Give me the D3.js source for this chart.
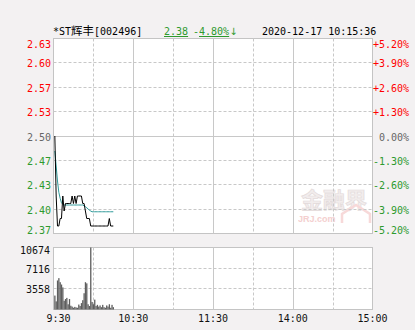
<!DOCTYPE html>
<html><head><meta charset="utf-8">
<script src="https://cdn.jsdelivr.net/npm/d3@7"></script>
<style>
html,body{margin:0;padding:0;background:#f3f1f2;}
svg{display:block;}
text{font-family:"DejaVu Sans Mono","Liberation Mono",monospace;font-size:10px;}
</style></head>
<body><svg id="c" width="415" height="330"></svg>
<script>
// ---- data ----
const stockPrefix = "*ST";
const stockCjk = "辉丰";
const stockCode = "[002496]";
const lastPrice = "2.38";
const changePct = "4.80%";
const dateTime = "2020-12-17 10:15:36";
const prevClose = 2.50;
const priceTicks = [2.37, 2.4025, 2.435, 2.4675, 2.50, 2.5325, 2.565, 2.5975, 2.63];
const priceTickLabels = ["2.37","2.40","2.43","2.47","2.50","2.53","2.57","2.60","2.63"];
const pctTickLabels = ["-5.20%","-3.90%","-2.60%","-1.30%","0.00%","+1.30%","+2.60%","+3.90%","+5.20%"];
const volTicks = [3558, 7116, 10674];
const volTickLabels = ["3558","7116","10674"];
const timeTicks = [0, 60, 120, 180, 240];
const timeLabels = ["9:30","10:30","11:30","14:00","15:00"];
const prices = [2.50,2.42,2.38,2.38,2.39,2.39,2.42,2.40,2.41,2.41,2.41,2.41,2.41,2.42,2.41,2.42,2.41,2.42,2.42,2.42,2.42,2.41,2.41,2.40,2.39,2.39,2.39,2.38,2.38,2.38,2.38,2.38,2.38,2.38,2.38,2.38,2.38,2.38,2.38,2.38,2.38,2.39,2.38,2.38,2.38];
const avgPrices = [2.48,2.46,2.44,2.425,2.417,2.411,2.409,2.408,2.408,2.408,2.408,2.408,2.408,2.408,2.408,2.408,2.408,2.408,2.408,2.408,2.408,2.408,2.407,2.406,2.404,2.403,2.401,2.400,2.399,2.399,2.399,2.399,2.399,2.399,2.399,2.399,2.399,2.399,2.399,2.399,2.399,2.399,2.399,2.399,2.399];
const volumes = [2400,1400,5000,5400,4700,4300,3800,1500,1800,2000,900,1800,650,500,300,450,350,300,850,600,1100,1600,2800,4700,4500,900,600,10674,1300,900,1700,600,800,500,700,400,800,400,300,700,500,900,300,800,400];

// ---- layout ----
const svg = d3.select("#c");
const L = 53.5, R = 372.5, PT = 38.5, PB = 233.5, VT = 247.5, VB = 309.5;
const x = d3.scaleLinear().domain([0, 240]).range([L, R]);
const y = d3.scaleLinear().domain([2.37, 2.63]).range([PB, PT]);
const yv = d3.scaleLinear().domain([0, 10674]).range([VB, VT]);
const red = "#ff0000", green = "#2e9a2e", grey = "#666666";
const colorFor = v => Math.abs(v - prevClose) < 1e-9 ? grey : (v > prevClose ? red : green);

// panels
[[PT, PB], [VT, VB]].forEach(([t, b]) => {
  svg.append("rect").attr("x", L).attr("y", t).attr("width", R - L).attr("height", b - t)
    .attr("fill", "#fff").attr("stroke", "#c4c4c4");
});

// watermark
const wm = svg.append("g").attr("opacity", 0.8);
wm.append("text").attr("x", 334).attr("y", 208).attr("text-anchor", "middle")
  .style("font-family", "'Noto Sans CJK SC'").style("font-size", "22px").style("font-weight", "bold")
  .attr("fill", "#efe9e9").attr("stroke", "#ddd3d3").attr("stroke-width", 0.7).text("金融界");
wm.append("text").attr("x", 298).attr("y", 222)
  .style("font-family", "Arial, 'Liberation Sans'").style("font-size", "9px").style("font-weight", "bold")
  .attr("fill", "#f2c4c4").text("JRJ.com");
wm.append("path").attr("d", "M342,223 L342,214 L356,205 L370,214 L370,223")
  .attr("fill", "none").attr("stroke", "#f6d0d0").attr("stroke-width", 2.5);

// vertical grid
const vMins = [30, 60, 90, 120, 150, 180, 210];
[[PT, PB], [VT, VB]].forEach(([t, b]) => {
  svg.selectAll(null).data(vMins).enter().append("line")
    .attr("x1", d => Math.round(x(d)) + 0.5).attr("x2", d => Math.round(x(d)) + 0.5)
    .attr("y1", t).attr("y2", b)
    .attr("stroke", "#c8c8c8")
    .attr("stroke-dasharray", d => d % 60 === 0 ? null : "3,2");
});

// horizontal price grid
svg.selectAll(null).data(priceTicks.slice(1, -1)).enter().append("line")
  .attr("x1", L).attr("x2", R)
  .attr("y1", d => Math.round(y(d) - 0.5) + 0.5).attr("y2", d => Math.round(y(d) - 0.5) + 0.5)
  .attr("stroke", "#c8c8c8")
  .attr("stroke-dasharray", d => Math.abs(d - prevClose) < 1e-9 ? null : "3,2");

// horizontal volume grid
svg.selectAll(null).data(volTicks.slice(0, -1)).enter().append("line")
  .attr("x1", L).attr("x2", R)
  .attr("y1", d => Math.round(yv(d) - 0.5) + 0.5).attr("y2", d => Math.round(yv(d) - 0.5) + 0.5)
  .attr("stroke", "#c8c8c8").attr("stroke-dasharray", "3,2");

// price axis labels
const labelShift = (i, n) => i === n - 1 ? 6 : (i === 0 ? -3 : 1);
svg.selectAll(null).data(priceTicks).enter().append("text")
  .attr("x", 51).attr("y", (d, i) => y(d) + labelShift(i, priceTicks.length) + 3.5)
  .attr("text-anchor", "end").attr("fill", d => colorFor(d))
  .text((d, i) => priceTickLabels[i]);
svg.selectAll(null).data(priceTicks).enter().append("text")
  .attr("x", 409).attr("y", (d, i) => y(d) + labelShift(i, priceTicks.length) + 3.5)
  .attr("text-anchor", "end").attr("fill", d => colorFor(d))
  .text((d, i) => pctTickLabels[i]);

// volume labels
svg.selectAll(null).data(volTicks).enter().append("text")
  .attr("x", 50).attr("y", (d, i) => yv(d) + (i === volTicks.length - 1 ? 3 : 1) + 3.5)
  .attr("text-anchor", "end").attr("fill", "#111")
  .text((d, i) => volTickLabels[i]);

// time labels
svg.selectAll(null).data(timeTicks).enter().append("text")
  .attr("x", (d, i) => i === 0 ? x(d) + 5 : x(d))
  .attr("y", 322).attr("text-anchor", "middle").attr("fill", "#111")
  .text((d, i) => timeLabels[i]);

// volume bars
svg.selectAll(null).data(volumes).enter().append("rect")
  .attr("x", (d, i) => x(i + 1) - 0.6).attr("width", 1.3)
  .attr("y", d => yv(d)).attr("height", d => VB - yv(d))
  .attr("fill", "#5e5e5e");

// lines
const line = d3.line().x((d, i) => x(i + 1)).y(d => y(d));
svg.append("path").datum(avgPrices).attr("d", line)
  .attr("fill", "none").attr("stroke", "#2f9a9a").attr("stroke-width", 1);
svg.append("path").datum(prices).attr("d", line)
  .attr("fill", "none").attr("stroke", "#000").attr("stroke-width", 1);

// header
const nm = svg.append("text").attr("x", 53).attr("y", 35).attr("fill", "#000");
nm.append("tspan").text(stockPrefix);
nm.append("tspan").style("font-family", "'Noto Sans CJK SC'").style("font-size", "11.5px").text(stockCjk);
nm.append("tspan").text(stockCode);
svg.append("text").attr("x", 164).attr("y", 35).attr("fill", green)
  .attr("text-decoration", "underline").text(lastPrice);
const ch = svg.append("text").attr("x", 193).attr("y", 35).attr("fill", green);
ch.append("tspan").text("-");
ch.append("tspan").attr("text-decoration", "underline").text(changePct);
ch.append("tspan").style("font-family", "'DejaVu Sans'").text("↓");
svg.append("text").attr("x", 262).attr("y", 35).attr("fill", "#000").text(dateTime);
</script></body></html>
